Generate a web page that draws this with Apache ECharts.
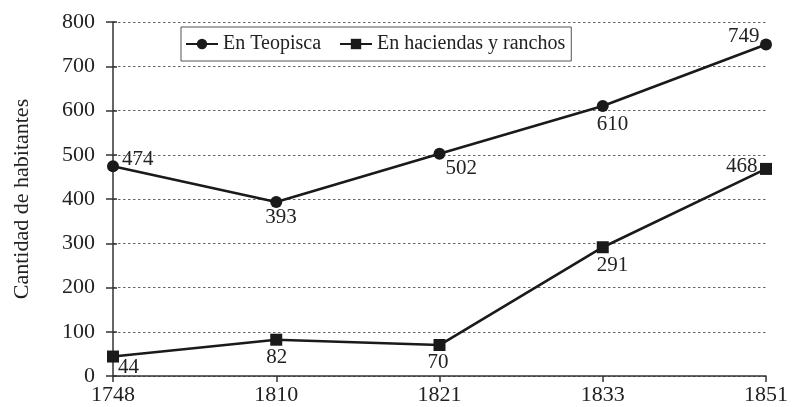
<!DOCTYPE html>
<html>
<head>
<meta charset="utf-8">
<script src="https://cdn.jsdelivr.net/npm/echarts@6/dist/echarts.min.js"></script>
<style>
  html, body { margin: 0; padding: 0; background: #fff; }
  #main { width: 792px; height: 407px; }
</style>
</head>
<body>
<div id="main"></div>
<script>
const years = ['1748', '1810', '1821', '1833', '1851'];
const teopisca = [474, 393, 502, 610, 749];
const haciendas = [44, 82, 70, 291, 468];

// label offsets, relative to the symbol's top-left corner
const teoLabelPos = [[15, -11], [-5, 11], [12, 10], [0, 14], [-32, -13]];
const hacLabelPos = [[11, 6], [-4, 13], [-6, 13], [0, 14], [-34, -7]];

var chartDom = document.getElementById('main');
var myChart = echarts.init(chartDom);

const font = 'Liberation Serif';
const ink = '#1a1a1a';

function withLabels(values, pos) {
  return values.map((v, i) => ({
    value: v,
    label: { position: pos[i] }
  }));
}

const valueLabel = {
  show: true,
  align: 'left',
  verticalAlign: 'top',
  fontFamily: font,
  fontSize: 21,
  color: '#222'
};

var option = {
  animation: false,
  textStyle: { fontFamily: font },
  grid: { left: 113, right: 26, top: 22, bottom: 31 },
  legend: {
    left: 181,
    top: 27,
    itemGap: 18,
    itemWidth: 32,
    itemHeight: 13,
    padding: [7, 6, 7, 4],
    borderColor: '#555',
    borderWidth: 1,
    textStyle: { fontFamily: font, fontSize: 20, color: '#222' },
    data: ['En Teopisca', 'En haciendas y ranchos']
  },
  xAxis: {
    type: 'category',
    data: years,
    boundaryGap: false,
    axisLine: { lineStyle: { color: '#333', width: 1.5 } },
    axisTick: { length: 6, lineStyle: { color: '#333', width: 1.5 } },
    axisLabel: { fontFamily: font, fontSize: 22, color: '#222', margin: 8 },
    splitLine: { show: false }
  },
  yAxis: [
    {
      type: 'value',
      min: 0,
      max: 800,
      interval: 100,
      name: 'Cantidad de habitantes',
      nameLocation: 'middle',
      nameGap: 80,
      nameTextStyle: { fontFamily: font, fontSize: 22, color: '#222' },
      axisLine: { show: true, lineStyle: { color: '#333', width: 1.5 } },
      axisTick: { show: true, length: 7, lineStyle: { color: '#333', width: 1.5 } },
      axisLabel: { fontFamily: font, fontSize: 22, color: '#222', margin: 18 },
      splitLine: { lineStyle: { type: [2.5, 2.5], color: '#666', width: 1 } }
    },
    {
      // second copy only to draw the inner half of the crossing ticks
      type: 'value',
      min: 0,
      max: 800,
      interval: 100,
      position: 'left',
      axisLine: { show: false },
      axisTick: { show: true, inside: true, length: 4, lineStyle: { color: '#333', width: 1.5 } },
      axisLabel: { show: false },
      splitLine: { show: false }
    }
  ],
  series: [
    {
      name: 'En Teopisca',
      type: 'line',
      data: withLabels(teopisca, teoLabelPos),
      symbol: 'circle',
      symbolSize: 12,
      lineStyle: { color: ink, width: 2.6 },
      itemStyle: { color: ink },
      label: valueLabel
    },
    {
      name: 'En haciendas y ranchos',
      type: 'line',
      data: withLabels(haciendas, hacLabelPos),
      symbol: 'rect',
      symbolSize: 12,
      lineStyle: { color: ink, width: 2.6 },
      itemStyle: { color: ink },
      label: valueLabel
    }
  ]
};

option && myChart.setOption(option);
</script>
</body>
</html>
